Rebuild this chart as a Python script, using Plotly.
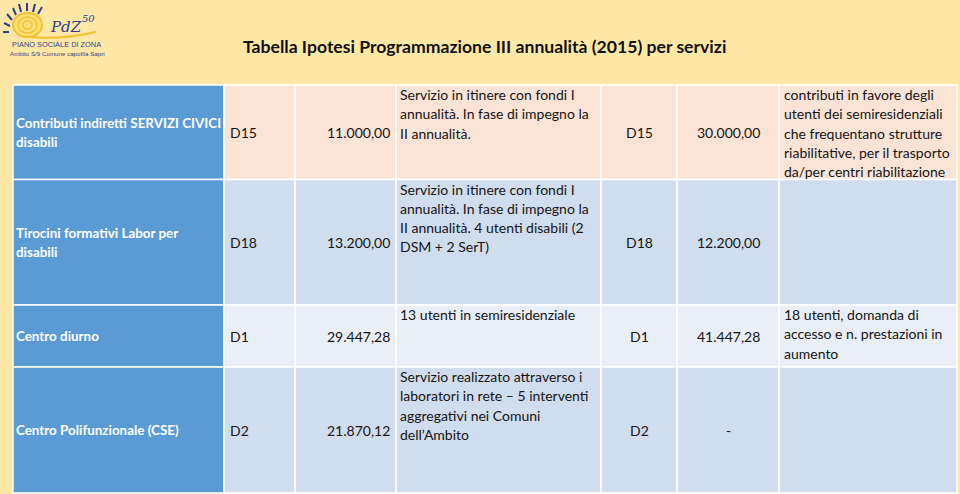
import plotly.graph_objects as go

# ---------------- data ----------------
titolo = "Tabella Ipotesi Programmazione III annualità (2015) per servizi"
servizi = [
    "Contributi indiretti SERVIZI CIVICI<br>disabili",
    "Tirocini formativi Labor per<br>disabili",
    "Centro diurno",
    "Centro Polifunzionale (CSE)",
]
codici_prec = ["D15", "D18", "D1", "D2"]
importi_prec = ["11.000,00", "13.200,00", "29.447,28", "21.870,12"]
note_prec = [
    "Servizio in itinere con fondi I<br>annualità. In fase di impegno la<br>II annualità.",
    "Servizio in itinere con fondi I<br>annualità. In fase di impegno la<br>II annualità. 4 utenti disabili (2<br>DSM + 2 SerT)",
    "13 utenti in semiresidenziale",
    "Servizio realizzato attraverso i<br>laboratori in rete – 5 interventi<br>aggregativi nei Comuni<br>dell’Ambito",
]
codici_2015 = ["D15", "D18", "D1", "D2"]
importi_2015 = ["30.000,00", "12.200,00", "41.447,28", "-"]
note_2015 = [
    "contributi in favore degli<br>utenti dei semiresidenziali<br>che frequentano strutture<br>riabilitative, per il trasporto<br>da/per centri riabilitazione",
    "",
    "18 utenti, domanda di<br>accesso e n. prestazioni in<br>aumento",
    "",
]

# ---------------- layout geometry / style ----------------
W, H = 960, 494
BG = "#FFE8A6"
BLUE = "#5B9BD5"
row_fill = ["#FBE4D6", "#D0DDEF", "#E9EEF7", "#D0DDEF"]
col_x = [13, 224, 295, 396, 601, 677, 779, 957]
row_y = [85, 179.5, 305, 367, 493]
FONT = "Lato"
FS = 14
FSB = 13.4
LH = 19.3
TXT = "#141414"

shapes = []
ann = []


def add_lines(text, x, y, xanchor, valign, size, color, bold=False):
    lines = text.split("<br>")
    n = len(lines)
    if valign == "top":
        first = y + 9.5
    else:
        first = y - (n - 1) * LH / 2
    for i, ln in enumerate(lines):
        ann.append(dict(x=x, y=first + i * LH, text=("<b>%s</b>" % ln) if bold else ln,
                        xanchor=xanchor, yanchor="middle",
                        font=dict(color=color, size=size, family=FONT)))


for r in range(4):
    y0, y1 = row_y[r], row_y[r + 1]
    for c in range(7):
        x0, x1 = col_x[c], col_x[c + 1]
        shapes.append(dict(type="rect", xref="x", yref="y", x0=x0, x1=x1, y0=y0, y1=y1,
                           fillcolor=BLUE if c == 0 else row_fill[r],
                           line=dict(color="white", width=1.5), layer="below"))
    ym = (y0 + y1) / 2
    add_lines(servizi[r], col_x[0] + 1, ym, "left", "middle", FSB, "white", bold=True)
    add_lines(codici_prec[r], col_x[1] + 4, ym, "left", "middle", FS, TXT)
    add_lines(importi_prec[r], col_x[3] - 4, ym, "right", "middle", FS, TXT)
    add_lines(note_prec[r], col_x[3] + 2, y0, "left", "top", FS, TXT)
    add_lines(codici_2015[r], (col_x[4] + col_x[5]) / 2, ym, "center", "middle", FS, TXT)
    add_lines(importi_2015[r], (col_x[5] + col_x[6]) / 2, ym, "center", "middle", FS, TXT)
    if note_2015[r]:
        add_lines(note_2015[r], col_x[6] + 3, y0, "left", "top", FS, TXT)

# title
ann.append(dict(x=241, y=46, text="<b>%s</b>" % titolo, xanchor="left", yanchor="middle",
                font=dict(color="#111111", size=17.6, family=FONT)))

# ---------------- logo ----------------
SUN = "#F2C12E"
LOGO_BLUE = "#2F3F8C"
shapes.append(dict(type="circle", xref="x", yref="y", x0=13, x1=42, y0=13, y1=37,
                   fillcolor="#FBE07A", line=dict(color=SUN, width=2)))
shapes.append(dict(type="circle", xref="x", yref="y", x0=18, x1=37, y0=17, y1=33,
                   fillcolor="rgba(0,0,0,0)", line=dict(color=SUN, width=1.5)))
shapes.append(dict(type="circle", xref="x", yref="y", x0=23, x1=32, y0=21, y1=29,
                   fillcolor="rgba(0,0,0,0)", line=dict(color=SUN, width=1.5)))
rays = [(9, 32, 3, 32), (10, 26, 4, 23), (12, 20, 7, 14), (16, 15, 13, 8), (21, 12, 19, 4),
        (27, 11, 27, 3), (33, 12, 35, 4), (38, 14, 42, 7)]
for (a, b, c2, d) in rays:
    shapes.append(dict(type="line", xref="x", yref="y", x0=a, y0=b, x1=c2, y1=d,
                       line=dict(color=LOGO_BLUE, width=2)))
shapes.append(dict(type="path", xref="x", yref="y", path="M 30 37 Q 60 40 96 32",
                   line=dict(color=SUN, width=2)))
ann.append(dict(x=48, y=27, text="<i>PdZ</i>", xanchor="left", yanchor="middle",
                font=dict(color=LOGO_BLUE, size=15, family="DejaVu Serif")))
ann.append(dict(x=80, y=18, text="<i>50</i>", xanchor="left", yanchor="middle",
                font=dict(color=LOGO_BLUE, size=10, family="DejaVu Serif")))
ann.append(dict(x=10, y=44, text="PIANO SOCIALE DI ZONA", xanchor="left", yanchor="middle",
                font=dict(color=LOGO_BLUE, size=7.4, family="Liberation Sans")))
ann.append(dict(x=8, y=53, text="Ambito S/9 Comune capofila Sapri", xanchor="left", yanchor="middle",
                font=dict(color=LOGO_BLUE, size=6.2, family="Liberation Sans")))

for a in ann:
    a.setdefault("showarrow", False)
    a.setdefault("xref", "x")
    a.setdefault("yref", "y")

fig = go.Figure()
fig.update_layout(
    width=W, height=H,
    margin=dict(l=0, r=0, t=0, b=0),
    paper_bgcolor=BG, plot_bgcolor=BG,
    xaxis=dict(range=[0, W], visible=False, fixedrange=True),
    yaxis=dict(range=[H, 0], visible=False, fixedrange=True),
    shapes=shapes, annotations=ann, showlegend=False,
)
fig.write_html("out.html", config={"displayModeBar": False},
               post_script="document.body.style.margin='0';document.body.style.background='%s';" % BG)
